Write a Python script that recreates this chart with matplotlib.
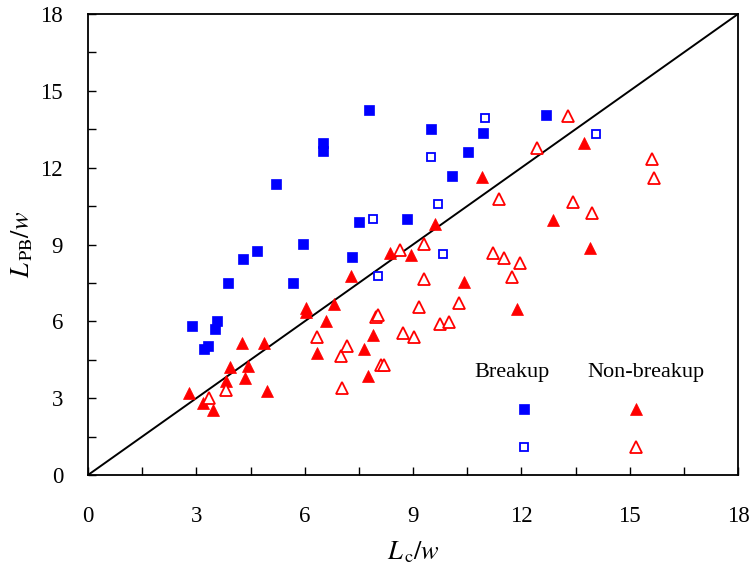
import matplotlib
matplotlib.use("Agg")
import matplotlib.pyplot as plt
from matplotlib.lines import Line2D
from matplotlib.offsetbox import TextArea, DrawingArea, VPacker, AnchoredOffsetbox

plt.rcParams['font.family'] = ['Liberation Serif', 'DejaVu Serif']
plt.rcParams['mathtext.fontset'] = 'stix'

# Breakup (filled squares)
brk_f_x = [6.52, 6.52, 5.20, 5.95, 4.67, 4.28, 3.87, 5.69, 7.31, 7.77, 9.50, 10.95,
           12.69, 10.52, 10.08, 7.51, 8.84, 2.89, 3.57, 3.52, 3.31, 3.22]
brk_f_y = [12.95, 12.66, 11.36, 9.01, 8.76, 8.45, 7.51, 7.51, 8.52, 14.24, 13.50, 13.37,
           14.06, 12.63, 11.68, 9.88, 10.01, 5.83, 6.01, 5.70, 5.04, 4.91]
# Breakup (open squares)
brk_o_x = [11.00, 9.50, 14.08, 9.68, 7.90, 9.82, 8.04]
brk_o_y = [13.94, 12.43, 13.32, 10.57, 10.00, 8.63, 7.77]
# Non-breakup (filled triangles)
nb_f_x = [13.74, 10.90, 9.61, 12.88, 13.91, 8.37, 8.94, 10.41, 7.28, 6.03, 6.03, 6.82,
          6.60, 6.34, 4.26, 4.86, 3.94, 4.44, 4.35, 3.81, 4.95, 2.79, 3.19, 3.46,
          11.88, 7.88, 7.63, 7.75]
nb_f_y = [12.98, 11.65, 9.79, 9.96, 8.85, 8.66, 8.59, 7.52, 7.78, 6.53, 6.35, 6.66,
          6.03, 4.78, 5.17, 5.17, 4.23, 4.27, 3.80, 3.67, 3.29, 3.21, 2.80, 2.54,
          6.49, 5.47, 4.91, 3.87]
# Non-breakup (open triangles)
nb_o_x = [13.29, 12.44, 11.38, 13.42, 13.96, 8.64, 9.31, 11.21, 11.51, 11.96, 11.74,
          9.31, 6.34, 7.01, 7.16, 7.04, 3.81, 3.36, 9.17, 10.28, 7.98, 8.03, 8.72,
          9.04, 9.74, 10.01, 8.12, 8.21, 15.63, 15.67]
nb_o_y = [14.02, 12.76, 10.79, 10.65, 10.22, 8.79, 9.02, 8.66, 8.46, 8.29, 7.72,
          7.65, 5.38, 4.65, 5.04, 3.41, 3.32, 3.02, 6.55, 6.73, 6.18, 6.25, 5.53,
          5.40, 5.91, 5.96, 4.30, 4.30, 12.33, 11.59]

diag = [0, 18]
ticks_major = [0, 3, 6, 9, 12, 15, 18]
ticks_minor = [1.5, 4.5, 7.5, 10.5, 13.5, 16.5]

BLUE = '#0000FF'
RED = '#FF0000'

fig = plt.figure(figsize=(7.55, 5.72), dpi=100)
ax = fig.add_axes([0.1166, 0.1696, 0.8609, 0.8059])

ax.plot(diag, diag, color='black', lw=1.4, zorder=1)

sq_f = dict(marker='s', ms=6.8, mfc=BLUE, mec=BLUE, ls='none', mew=0.5)
sq_o = dict(marker='s', ms=5.8, mfc='white', mec=BLUE, ls='none', mew=1.3)
tr_f = dict(marker='^', ms=9.0, mfc=RED, mec=RED, ls='none', mew=0.5)
tr_o = dict(marker='^', ms=8.0, mfc='white', mec=RED, ls='none', mew=1.3)

ax.plot(brk_f_x, brk_f_y, zorder=3, **sq_f)
ax.plot(brk_o_x, brk_o_y, zorder=3, **sq_o)
ax.plot(nb_f_x, nb_f_y, zorder=3, **tr_f)
ax.plot(nb_o_x, nb_o_y, zorder=3, **tr_o)

ax.set_xlim(0, 18)
ax.set_ylim(0, 18)
ax.set_xticks(ticks_major)
ax.set_yticks(ticks_major)
ax.set_xticks(ticks_minor, minor=True)
ax.set_yticks(ticks_minor, minor=True)
ax.tick_params(which='both', direction='in', length=6, width=1, labelsize=16.5,
               top=False, right=False)
ax.tick_params(axis='x', pad=22)
ax.tick_params(axis='y', pad=18)
for s in ax.spines.values():
    s.set_linewidth(1.3)

ax.set_xlabel(r'$L_{\,\mathrm{c}}/w$', fontsize=19, labelpad=9)
ax.set_ylabel(r'$L_{\,\mathrm{PB}}/w$', fontsize=19, labelpad=4)


def anchored(child, fx, fy):
    anch = AnchoredOffsetbox(loc='center', child=child, frameon=False,
                             bbox_to_anchor=(fx, fy), bbox_transform=ax.transAxes,
                             borderpad=0, pad=0)
    ax.add_artist(anch)


def marker_box(style):
    da = DrawingArea(15, 15, 0, 0)
    da.add_artist(Line2D([7.5], [7.5], **style))
    return da


def key_column(s1, s2, fx, fy):
    anchored(VPacker(children=[marker_box(s1), marker_box(s2)],
                     align='center', pad=0, sep=12.5), fx, fy)


anchored(TextArea('Breakup', textprops=dict(fontsize=16)), 0.6529, 0.2219)
anchored(TextArea('Non-breakup', textprops=dict(fontsize=16)), 0.8582, 0.2219)
key_column(sq_f, sq_o, 0.6707, 0.1015)
key_column(tr_f, tr_o, 0.8424, 0.1015)

fig.savefig('out.png', dpi=100)
